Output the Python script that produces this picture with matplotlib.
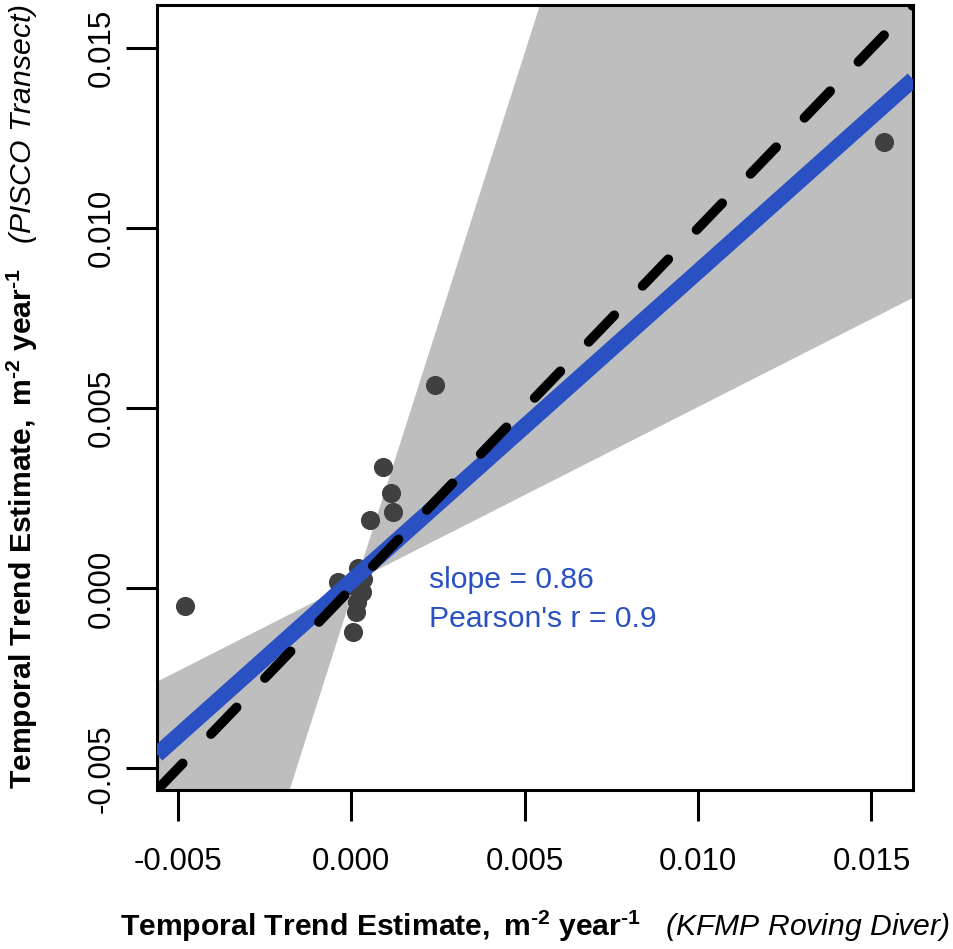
import numpy as np
import matplotlib
matplotlib.use("Agg")
import matplotlib.pyplot as plt

plt.rcParams['font.family'] = ['Liberation Sans', 'DejaVu Sans']
plt.rcParams['mathtext.fontset'] = 'custom'
plt.rcParams['mathtext.rm'] = 'Liberation Sans'
plt.rcParams['mathtext.bf'] = 'Liberation Sans:bold'
plt.rcParams['mathtext.it'] = 'Liberation Sans:italic'

# trend estimates (KFMP roving diver vs PISCO transect)
kfmp = [-0.00478, 0.01536, 0.00242, 0.00093, 0.00114, 0.00119, 0.00053,
        0.00020, 0.00035, 0.00032, 0.00017, 0.00014, 0.00005, -0.00037, 0.00000]
pisco = [-0.00050, 0.01240, 0.00566, 0.00336, 0.00264, 0.00211, 0.00191,
         0.00058, 0.00025, -0.00011, -0.00039, -0.00066, -0.00121, 0.00017, 0.00010]

fit_slope = 0.86
fit_intercept = 0.0002
# confidence fan: two lines through a pivot
band_pivot = (0.00015, 0.00022)
band_slopes = [0.489, 3.02]

lims = (-0.0056, 0.0162)
ticks = [-0.005, 0.000, 0.005, 0.010, 0.015]
tick_labels = ["-0.005", "0.000", "0.005", "0.010", "0.015"]

blue = '#2a51c4'
fs = 21.7

fig = plt.figure(figsize=(9.54, 9.49), dpi=100)
ax = fig.add_axes([0.1646, 0.1675, 0.7925, 0.8272])

xg = np.sort(np.append(np.linspace(lims[0], lims[1], 500), band_pivot[0]))
l1 = band_pivot[1] + band_slopes[0] * (xg - band_pivot[0])
l2 = band_pivot[1] + band_slopes[1] * (xg - band_pivot[0])
ax.fill_between(xg, np.minimum(l1, l2), np.maximum(l1, l2), color='#bebebe', lw=0, zorder=1)

ax.scatter(kfmp, pisco, s=190, color='#404040', lw=0, zorder=2)

ax.axline((0, fit_intercept), slope=fit_slope, color=blue, lw=11.5, solid_capstyle='butt', zorder=3)
ax.axline((0, 0), slope=1, color='black', lw=7, linestyle=(0, (3.8, 4.2)),
          dash_capstyle='round', zorder=4)

ax.set_xlim(lims)
ax.set_ylim(lims)
ax.set_xticks(ticks)
ax.set_xticklabels(tick_labels)
ax.set_yticks(ticks)
ax.set_yticklabels(tick_labels, rotation=90, va='center')
ax.tick_params(axis='both', length=22, width=2.2, labelsize=22.5)
ax.tick_params(axis='x', pad=19)
ax.tick_params(axis='y', pad=7)
for sp in ax.spines.values():
    sp.set_linewidth(2.2)

ax.text(0.00225, 0.00022, "slope = 0.86", color=blue, fontsize=fs, va='center', ha='left')
ax.text(0.00225, -0.00086, "Pearson's r = 0.9", color=blue, fontsize=fs, va='center', ha='left')

units = r"$\mathbf{Temporal\ Trend\ Estimate,}$ $\mathbf{m^{\u20102}\ year^{\u20101}}$"
units = units.replace(r"\u2010", "\u2010")
fig.text(0.561, 0.0242, units + "   (KFMP Roving Diver)",
         fontsize=fs, style='italic', ha='center', va='center')
fig.text(0.024, 0.582, units + "   (PISCO Transect)",
         fontsize=fs, style='italic', ha='center', va='center', rotation=90)

fig.savefig("out.png", dpi=100)
